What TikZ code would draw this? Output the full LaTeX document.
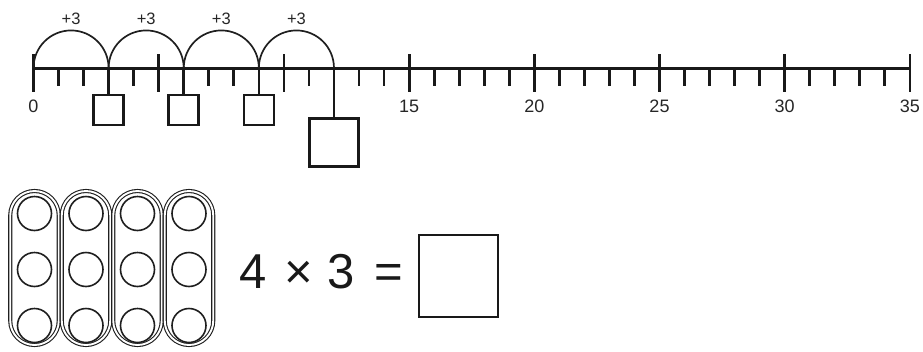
\documentclass[tikz,border=0pt]{standalone}
\usepackage{fontspec}
\setmainfont{Liberation Sans}
\begin{document}
\begin{tikzpicture}[x=1pt,y=1pt,
  axisline/.style={line width=3pt, draw=black!90},
  majortick/.style={line width=2.8pt, draw=black!90},
  minortick/.style={line width=2.8pt, draw=black!90},
  jumparc/.style={line width=1.7pt, draw=black!88},
  link/.style={line width=2.6pt, draw=black!90},
  smallbox/.style={draw=black!90, line width=2.6pt, minimum width=30pt, minimum height=30pt, inner sep=0pt},
  bigbox/.style={draw=black!90, line width=2.6pt, minimum width=49pt, minimum height=48.5pt, inner sep=0pt},
  eqbox/.style={draw=black!90, line width=2.4pt, minimum width=79pt, minimum height=82pt, inner sep=0pt},
  numlabel/.style={text=black!85, font=\fontsize{18}{20}\selectfont, inner sep=0pt},
  jumplabel/.style={text=black!85, font=\fontsize{16.5}{18}\selectfont, inner sep=0pt},
  eqtext/.style={text=black!90, font=\fontsize{49}{52}\selectfont, inner sep=0pt, anchor=base},
  capsule/.style={draw=black!88, line width=1.1pt, double=white, double distance=1.9pt,
    minimum width=48.5pt, minimum height=154pt, rounded corners=24.25pt, inner sep=0pt},
  counter/.style={circle, draw=black!88, line width=1.6pt, minimum size=34pt, inner sep=0pt}
]
\useasboundingbox (0,0) rectangle (923,-351);
\def\xo{33.5}
\def\un{25.04}
% number line
\coordinate (n0) at (\xo,-68);
\coordinate (n35) at ({\xo+35*\un},-68);
\draw[axisline] (n0) -- (n35);
\foreach \k in {0,...,35} {
  \pgfmathtruncatemacro{\m}{mod(\k,5)}
  \ifnum\m=0
    \draw[majortick] ({\xo+\k*\un},-54) -- ({\xo+\k*\un},-92);
  \else
    \ifnum\k=3\relax\else\ifnum\k=6\relax\else\ifnum\k=9\relax\else\ifnum\k=12\relax\else
      \draw[minortick] ({\xo+\k*\un},-68) -- ({\xo+\k*\un},-86);
    \fi\fi\fi\fi
  \fi
}
\foreach \k in {0,15,20,25,30,35} {
  \node[numlabel] (lab\k) at ({\xo+\k*\un},-106.5) {\k};
}
% jumps
\foreach \j in {0,1,2,3} {
  \pgfmathsetmacro{\sx}{\xo+3*\j*\un}
  \draw[jumparc] (\sx,-68) arc[start angle=180, end angle=0, radius={1.5*\un}];
  \node[jumplabel] (jl\j) at ({\xo+(3*\j+1.5)*\un},-18.5) {+3};
}
% answer boxes on the line
\coordinate (p3) at ({\xo+3*\un},-68);
\coordinate (p6) at ({\xo+6*\un},-68);
\coordinate (p9) at ({\xo+9*\un},-68);
\coordinate (p12) at ({\xo+12*\un},-68);
\node[smallbox] (b3) at ({\xo+3*\un},-110) {};
\node[smallbox] (b6) at ({\xo+6*\un},-110) {};
\node[smallbox] (b9) at ({\xo+9*\un},-110) {};
\node[bigbox] (b12) at ({\xo+12*\un},-142.5) {};
\draw[link] (p3) -- (b3.north);
\draw[link] (p6) -- (b6.north);
\draw[link] (p9) -- (b9.north);
\draw[link] (p12) -- (b12.north);
% racks of counters
\foreach \i in {0,1,2,3} {
  \pgfmathsetmacro{\cx}{34.5+51.5*\i}
  \node[capsule] (cap\i) at (\cx,-268) {};
  \node[counter] (c\i a) at (\cx,-213.5) {};
  \node[counter] (c\i b) at (\cx,-269.5) {};
  \node[counter] (c\i c) at (\cx,-325.5) {};
}
% equation
\node[eqtext] (four) at (253.5,-288) {4};
\node[eqtext] (times) at (299,-288) {×};
\node[eqtext] (three) at (341,-288) {3};
\node[eqtext] (equals) at (388.5,-288) {=};
\node[eqbox] (ans) at (458.5,-276) {};
\end{tikzpicture}
\end{document}
